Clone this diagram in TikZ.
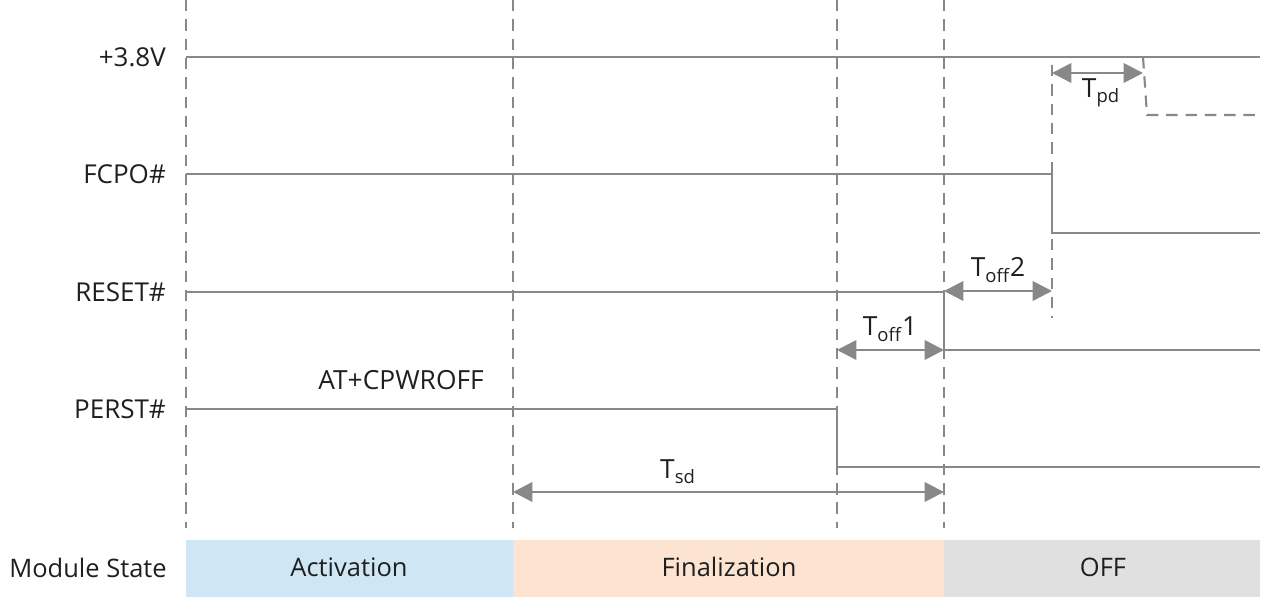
\documentclass[tikz,border=0pt]{standalone}
\usepackage{fontspec}
\setmainfont{Open Sans}
\usetikzlibrary{arrows.meta}
\definecolor{sig}{HTML}{888888}
\definecolor{actfill}{HTML}{CFE7F5}
\definecolor{finfill}{HTML}{FDE4D2}
\definecolor{offfill}{HTML}{E0E0E0}
\definecolor{txt}{HTML}{1F1F1F}

\begin{document}
\begin{tikzpicture}[x=0.02cm,y=-0.02cm,
        sigline/.style={sig,line width=1.2pt},
        guide/.style={sig,line width=1.1pt,dash pattern=on 6.5pt off 4.5pt},
        dim/.style={sig,line width=1.5pt,{Triangle[width=11pt,length=11pt]}-{Triangle[width=11pt,length=11pt]}},
        siglabel/.style={anchor=east,text=txt,font=\fontsize{14.8}{16}\selectfont},
        timelabel/.style={text=txt,font=\fontsize{15}{16}\selectfont},
        statelabel/.style={text=txt,font=\fontsize{14.5}{16}\selectfont}]
    \useasboundingbox (0,0) rectangle (1265,597);
    % module state bars
    \fill[actfill] (186,540) rectangle (513,597);
    \fill[finfill] (513,540) rectangle (944,597);
    \fill[offfill] (944,540) rectangle (1260,597);
    \node[statelabel] (state) at (88,568) {Module State};
    \node[statelabel] (act) at (349,567) {Activation};
    \node[statelabel] (fin) at (729,567) {Finalization};
    \node[statelabel] (off) at (1103,567) {OFF};
    % phase boundaries
    \foreach \x/\n in {186/a,513/b,837/c,944/d} {
        \coordinate (top\n) at (\x,0);
        \coordinate (bot\n) at (\x,528);
        \draw[guide] (top\n) -- (bot\n);
    }
    \coordinate (topf) at (1052,65);
    \coordinate (botf) at (1052,318);
    \draw[guide] (topf) -- (botf);
    % signal names
    \node[siglabel] (vcc) at (172,57) {+3.8V};
    \node[siglabel] (fcpo) at (172,174) {FCPO\#};
    \node[siglabel] (reset) at (172,292) {RESET\#};
    \node[siglabel] (perst) at (172,409) {PERST\#};
    % +3.8V
    \coordinate (v0) at (186,57);
    \coordinate (v1) at (1143,57);
    \coordinate (v2) at (1147,115);
    \coordinate (v3) at (1260,115);
    \coordinate (v4) at (1260,57);
    \draw[sigline] (v0) -- (v4);
    \draw[sigline,dash pattern=on 6.5pt off 4.5pt] (v1) -- (v2) -- (v3);
    % FCPO#
    \coordinate (f0) at (186,174);
    \coordinate (f1) at (1052,174);
    \coordinate (f2) at (1052,233);
    \coordinate (f3) at (1260,233);
    \draw[sigline] (f0) -- (f1) -- (f2) -- (f3);
    % RESET#
    \coordinate (r0) at (186,292);
    \coordinate (r1) at (944,292);
    \coordinate (r2) at (944,350);
    \coordinate (r3) at (1260,350);
    \draw[sigline] (r0) -- (r1) -- (r2) -- (r3);
    % PERST#
    \coordinate (p0) at (186,409);
    \coordinate (p1) at (837,409);
    \coordinate (p2) at (837,467);
    \coordinate (p3) at (1260,467);
    \draw[sigline] (p0) -- (p1) -- (p2) -- (p3);
    \node[timelabel] (cmd) at (401,380) {AT+CPWROFF};
    % timings
    \coordinate (tpda) at (1052,73);
    \coordinate (tpdb) at (1143,73);
    \draw[dim] (tpda) -- (tpdb);
    \node[timelabel] (tpd) at (1101,93) {T\textsubscript{pd}};
    \coordinate (toffba) at (944,291);
    \coordinate (toffbb) at (1052,291);
    \draw[dim] (toffba) -- (toffbb);
    \node[timelabel] (toffb) at (998,270) {T\textsubscript{off}2};
    \coordinate (toffaa) at (837,350);
    \coordinate (toffab) at (944,350);
    \draw[dim] (toffaa) -- (toffab);
    \node[timelabel] (toffa) at (890,329) {T\textsubscript{off}1};
    \coordinate (tsda) at (513,492);
    \coordinate (tsdb) at (944,492);
    \draw[dim] (tsda) -- (tsdb);
    \node[timelabel] (tsd) at (678,472) {T\textsubscript{sd}};
\end{tikzpicture}
\end{document}
